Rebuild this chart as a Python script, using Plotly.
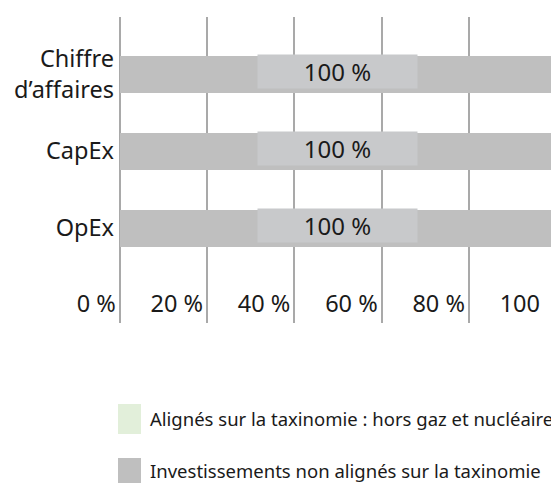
import plotly.graph_objects as go

categories = ["Chiffre<br>d’affaires", "CapEx", "OpEx"]
aligned = [0, 0, 0]
non_aligned = [100, 100, 100]
series_names = ["Alignés sur la taxinomie : hors gaz et nucléaire",
                "Investissements non alignés sur la taxinomie"]
series_colors = ["#e2efda", "#bfbfbf"]
x_tick_vals = [0, 20, 40, 60, 80, 100]
x_tick_text = ["0 %", "20 %", "40 %", "60 %", "80 %", "100\u00a0\u00a0"]

FONT = "Noto Sans"
OFF = 8  # page body margin offset
W, H = 559 - OFF, 483 - OFF
L, R, T, B = 118 - OFF, 1.5, 17 - OFF, 160

fig = go.Figure()
fig.add_trace(go.Bar(y=categories, x=aligned, orientation="h", name=series_names[0],
                     marker=dict(color=series_colors[0], line=dict(width=0)),
                     width=0.48, showlegend=False, hoverinfo="skip"))
fig.add_trace(go.Bar(y=categories, x=non_aligned, orientation="h", name=series_names[1],
                     marker=dict(color=series_colors[1], line=dict(width=0)),
                     width=0.48, showlegend=False, hoverinfo="skip"))

# value labels with light box
for c, a, n in zip(categories, aligned, non_aligned):
    total = a + n
    fig.add_annotation(x=total / 2, y=c, xref="x", yref="y", text=f"{total} %",
                       showarrow=False, bgcolor="#c8c9cb", width=157, height=31,
                       yshift=3, font=dict(family=FONT, size=24, color="#1a1a1a"))

# manual legend (pixel positions in the reference page)
plot_h = H - T - B
def py(pix):
    return (H - B - (pix - OFF)) / plot_h
def px(pix):
    return ((pix - OFF) - L) / (W - L - R)

legend_rows = [(404, 434, 418), (458, 490, 470)]
for (y0, y1, yc), name, col in zip(legend_rows, series_names, series_colors):
    fig.add_shape(type="rect", xref="paper", yref="paper", x0=px(118), x1=px(141),
                  y0=py(y1), y1=py(y0), fillcolor=col, line=dict(width=0))
    fig.add_annotation(xref="paper", yref="paper", x=px(148), y=py(yc), text=name,
                       showarrow=False, xanchor="left", yanchor="middle",
                       font=dict(family=FONT, size=18.5, color="#1a1a1a"))

fig.update_layout(
    width=W, height=H,
    margin=dict(l=L, r=R, t=T, b=B, autoexpand=False),
    barmode="stack", bargap=0,
    plot_bgcolor="white", paper_bgcolor="white",
    font=dict(family=FONT, size=24, color="#1a1a1a"),
    xaxis=dict(range=[-0.4, 100.2], tickvals=x_tick_vals,
               ticktext=[t + "\u2009" for t in x_tick_text],
               showgrid=True, gridcolor="#a9a9a9", gridwidth=2, zeroline=False,
               showline=False, ticks="", ticklabelposition="outside left",
               anchor="free", position=py(287), automargin=False,
               tickfont=dict(family=FONT, size=23.5, color="#1a1a1a")),
    yaxis=dict(categoryorder="array", categoryarray=categories[::-1],
               range=[-1.23, 2.74], showgrid=False, zeroline=False, showline=False,
               ticks="", ticklabelstandoff=3, automargin=False,
               tickfont=dict(family=FONT, size=23.5, color="#1a1a1a")),
)

fig.write_html("out.html")
